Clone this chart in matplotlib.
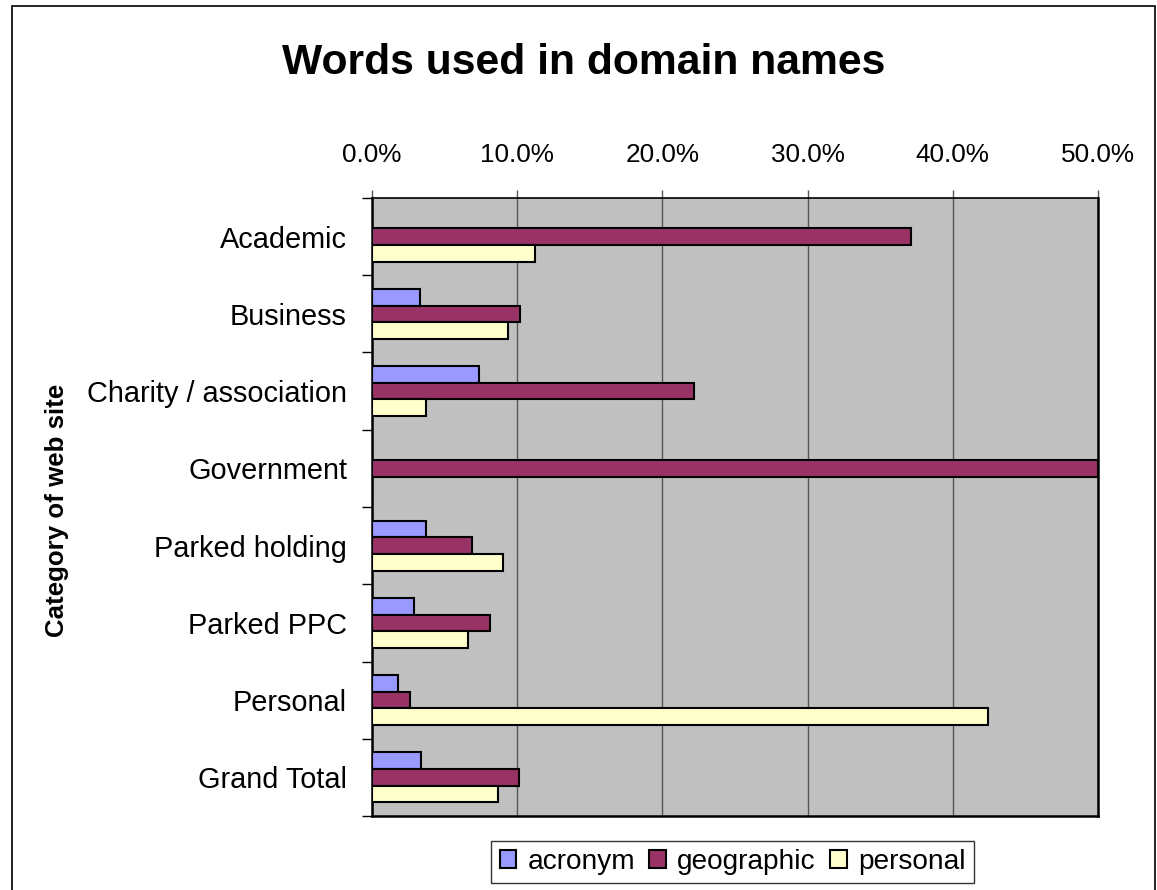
import matplotlib; matplotlib.use('Agg')
import matplotlib.pyplot as plt, numpy as np
from matplotlib.patches import Rectangle
from matplotlib.ticker import FuncFormatter

plt.rcParams['font.family'] = ['Liberation Sans', 'DejaVu Sans']

categories = ['Academic', 'Business', 'Charity / association', 'Government',
              'Parked holding', 'Parked PPC', 'Personal', 'Grand Total']
series = ['acronym', 'geographic', 'personal']
# percent of domain names in each category
acronym = [0.0, 3.3, 7.4, 0.0, 3.7, 2.9, 1.8, 3.4]
geographic = [37.1, 10.2, 22.2, 50.0, 6.9, 8.1, 2.6, 10.1]
personal = [11.2, 9.4, 3.7, 0.0, 9.0, 6.6, 42.4, 8.7]
x_ticks = [0, 10, 20, 30, 40, 50]

COLORS = ['#9999FF', '#993366', '#FFFFCC']
W, H = 1157, 890

fig = plt.figure(figsize=(W / 100, H / 100), dpi=100)
ax = fig.add_axes([372 / W, 1 - 816 / H, (1098 - 372) / W, (816 - 198) / H])
ax.set_facecolor('#C0C0C0')

y = np.arange(len(categories))
h = 0.215
for k, (vals, col, name) in enumerate(zip([acronym, geographic, personal], COLORS, series)):
    ax.barh(y + (k - 1) * h, vals, height=h, color=col, edgecolor='black',
            linewidth=1.5, label=name, zorder=3)

ax.set_xlim(0, 50)
ax.set_ylim(len(categories) - 0.5, -0.5)
ax.set_xticks(x_ticks)
ax.xaxis.set_major_formatter(FuncFormatter(lambda v, p: f'{v:.1f}%'))
ax.xaxis.tick_top()
ax.tick_params(axis='x', direction='out', length=6, width=1, color='#555555',
               labelsize=18.8, pad=16)
ax.grid(axis='x', color='#555555', linewidth=1, zorder=1)

ax.set_yticks(y)
ax.set_yticklabels(categories)
ax.set_yticks(np.arange(len(categories) + 1) - 0.5, minor=True)
ax.tick_params(axis='y', which='major', length=0, labelsize=20.8, pad=18)
ax.tick_params(axis='y', which='minor', length=7, width=1, color='black')

for side in ['left', 'bottom', 'right']:
    ax.spines[side].set_linewidth(1.8)
ax.spines['top'].set_linewidth(1.2)

fig.text(584 / W, 1 - 63 / H, 'Words used in domain names', ha='center', va='center',
         fontsize=30.7, fontweight='bold')
fig.text(57 / W, 1 - 510 / H, 'Category of web site', ha='center', va='center',
         rotation=90, fontsize=18.6, fontweight='bold')

leg = fig.legend(loc='center', bbox_to_anchor=(732.5 / W, 1 - 862 / H), ncol=3,
                 fontsize=20.2, frameon=True, fancybox=False, handlelength=0.6,
                 handleheight=0.6, handletextpad=0.4, columnspacing=0.5,
                 borderpad=0.3, borderaxespad=0)
leg.get_frame().set_edgecolor('black')
leg.get_frame().set_linewidth(1)

fig.patches.append(Rectangle((12 / W, -0.05), (1155 - 12) / W, 1.05 - 6 / H,
                             transform=fig.transFigure, fill=False,
                             edgecolor='black', linewidth=1.2))

fig.savefig('out.png')
